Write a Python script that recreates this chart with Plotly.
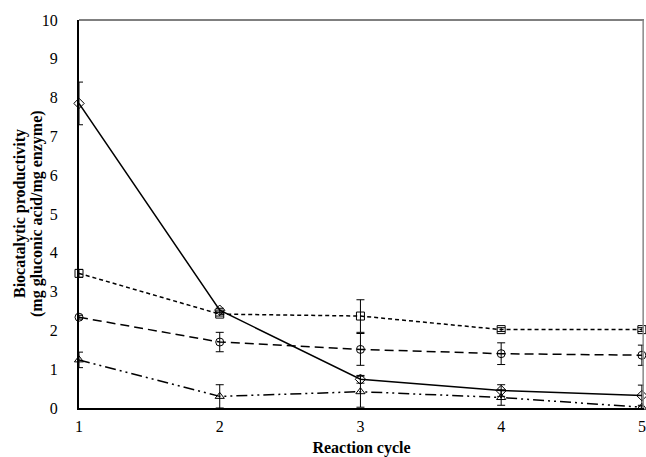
import plotly.graph_objects as go

cycles = [1, 2, 3, 4, 5]

diamond_vals = [7.85, 2.52, 0.74, 0.45, 0.32]
diamond_err = [0.55, 0.05, 0.10, 0.15, 0.27]

square_vals = [3.47, 2.42, 2.37, 2.02, 2.02]
square_err = [0.10, 0.05, 0.42, 0.05, 0.05]

circle_vals = [2.34, 1.70, 1.51, 1.40, 1.36]
circle_err = [0.05, 0.25, 0.41, 0.28, 0.26]

triangle_vals = [1.24, 0.30, 0.42, 0.27, 0.02]
triangle_err = [0.20, 0.30, 0.40, 0.20, 0.05]

x_ticks = [1, 2, 3, 4, 5]
y_ticks = list(range(0, 11))

y_title_lines = ["Biocatalytic productivity", "(mg gluconic acid/mg enzyme)"]
x_title = "Reaction cycle"

series = [
    ("diamond-open", "solid", diamond_vals, diamond_err),
    ("square-open", "4px,3px", square_vals, square_err),
    ("circle-open", "9px,5px", circle_vals, circle_err),
    ("triangle-up-open", "11px,4px,2px,4px,2px,4px", triangle_vals, triangle_err),
]

fig = go.Figure()
for sym, dash, vals, err in series:
    fig.add_trace(go.Scatter(
        x=cycles, y=vals, mode="lines+markers",
        line=dict(color="black", width=1.5, dash=dash),
        marker=dict(symbol=sym, size=8, color="black", line=dict(color="black", width=1)),
        error_y=dict(type="data", array=err, visible=True, color="black", thickness=1, width=4),
        cliponaxis=False,
        showlegend=False,
    ))

font_family = "'Times New Roman', 'Liberation Serif', serif"

annotations = []
for i, line in enumerate(y_title_lines):
    annotations.append(dict(
        text="<b>%s</b>" % line, textangle=-90, showarrow=False,
        xref="paper", yref="paper", x=0, y=0.5, xanchor="center", yanchor="middle",
        xshift=-59 + 17 * i,
        font=dict(family=font_family, size=16, color="black"),
    ))

fig.update_layout(
    width=646, height=457,
    margin=dict(l=79, r=0, t=20, b=49),
    paper_bgcolor="white", plot_bgcolor="white",
    font=dict(family=font_family, size=16, color="black"),
    xaxis=dict(
        range=[1, 5.015], tickvals=x_ticks, showgrid=False, zeroline=False,
        showline=True, linecolor="black", linewidth=2, ticks="",
        ticklabeloverflow="allow", ticklabelstandoff=3,
        tickfont=dict(family=font_family, size=16, color="black"),
        title=dict(text="<b>%s</b>" % x_title, font=dict(family=font_family, size=16, color="black"), standoff=8),
    ),
    yaxis=dict(
        range=[0, 10], tickvals=y_ticks, showgrid=False, zeroline=False,
        showline=True, linecolor="black", linewidth=2, ticks="",
        ticklabelstandoff=16,
        tickfont=dict(family=font_family, size=16, color="black"),
    ),
    annotations=annotations,
    shapes=[
        dict(type="line", xref="paper", yref="paper", x0=0, x1=1, y0=1, y1=1,
             line=dict(color="black", width=1)),
        dict(type="line", xref="paper", yref="paper", x0=0.9985, x1=0.9985, y0=0, y1=1,
             line=dict(color="#888888", width=1.5)),
    ],
)

fig.write_html("out.html")
